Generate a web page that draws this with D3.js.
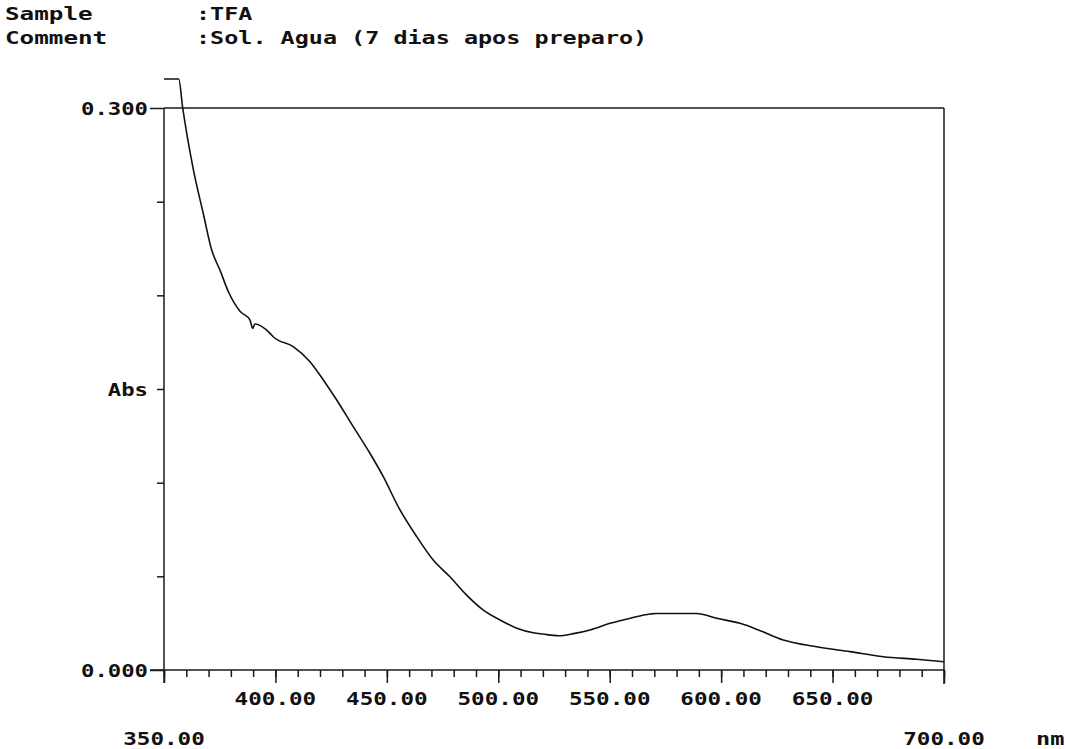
<!DOCTYPE html>
<html>
<head>
<meta charset="utf-8">
<script src="https://cdn.jsdelivr.net/npm/d3@7"></script>
<style>
  html, body { margin: 0; padding: 0; background: #fff; }
  svg { display: block; }
  text { font-family: "DejaVu Sans Mono", "Liberation Mono", monospace; font-weight: bold; fill: #111; }
</style>
</head>
<body>
<svg id="chart" width="1066" height="749"></svg>
<script>
// Spectrum: wavelength (nm) and absorbance readings
const wavelength = [350, 356.6, 358.4, 363.2, 367.6, 371.4, 375.1, 378.9, 384.1, 388.6, 389.8, 390.8,
  397.6, 399.0, 408.0, 415.5, 421.5, 427.5, 434.9, 442.4, 448.4, 455.5, 463.4, 470.8, 478.3, 485.8,
  493.3, 500.8, 508.3, 515.7, 520.0, 527.0, 533.7, 541.2, 550.1, 559.1, 568.1, 571.0, 589.0, 598.0,
  608.5, 616.7, 627.9, 642.9, 657.8, 672.8, 687.7, 700.0];
const absorbance = [0.3155, 0.3155, 0.300, 0.267, 0.2438, 0.2242, 0.2135, 0.2019, 0.1915, 0.1868, 0.1824, 0.1847,
  0.1797, 0.1779, 0.1726, 0.1646, 0.1548, 0.1441, 0.1299, 0.1157, 0.1032, 0.0863, 0.0712, 0.0587, 0.0498, 0.0400,
  0.0320, 0.0267, 0.0223, 0.0199, 0.0192, 0.0183, 0.0194, 0.0214, 0.0249, 0.0276, 0.0299, 0.0302, 0.0302, 0.0276,
  0.0249, 0.0214, 0.0160, 0.0124, 0.0098, 0.0071, 0.0057, 0.0044];

// Axis settings
const xDomain = [350, 700];
const yDomain = [0, 0.3];
const xMajorTicks = [350, 400, 450, 500, 550, 600, 650, 700];
const xInnerLabels = [400, 450, 500, 550, 600, 650];
const xEndLabels = [350, 700];
const yTicks = [0, 0.05, 0.1, 0.15, 0.2, 0.25, 0.3];
const yLabels = [{ v: 0.3, t: "0.300" }, { v: 0.15, t: "Abs" }, { v: 0, t: "0.000" }];
const headerKeys = ["Sample", "Comment"];
const headerValues = [":TFA", ":Sol. Agua (7 dias apos preparo)"];
const unitLabel = "nm";

const svg = d3.select("#chart");
const plotLeft = 164, plotRight = 944, plotTop = 108, plotBottom = 670;
const ink = "#1a1a1a";

const x = d3.scaleLinear().domain(xDomain).range([plotLeft, plotRight]);
const y = d3.scaleLinear().domain(yDomain).range([plotBottom, plotTop]);

// Monospace text stretched to the wide terminal-style cell
function mono(sel, str, cell) {
  sel.text(str)
    .attr("textLength", str.length * cell)
    .attr("lengthAdjust", "spacingAndGlyphs");
  return sel;
}

// Header
headerKeys.forEach((k, i) => {
  const yy = 20 + i * 24;
  mono(svg.append("text").attr("x", 5).attr("y", yy).attr("font-size", 17.5), k, 14.6);
  mono(svg.append("text").attr("x", 196).attr("y", yy).attr("font-size", 17.5), headerValues[i], 14.1);
});

// Frame top and right edges
svg.append("line").attr("x1", plotLeft).attr("x2", plotRight).attr("y1", plotTop).attr("y2", plotTop)
  .attr("stroke", ink).attr("stroke-width", 1.5);
svg.append("line").attr("x1", plotRight).attr("x2", plotRight).attr("y1", plotTop).attr("y2", plotBottom + 14)
  .attr("stroke", ink).attr("stroke-width", 1.5);

// X axis: minor ticks every 10 nm, long ticks every 50 nm
const xAxisMinor = d3.axisBottom(x).tickValues(d3.range(350, 701, 10)).tickSize(7).tickFormat("").tickSizeOuter(0);
const gxMinor = svg.append("g").attr("transform", `translate(0,${plotBottom})`).call(xAxisMinor);
const xAxisMajor = d3.axisBottom(x).tickValues(xMajorTicks).tickSize(13).tickFormat("").tickSizeOuter(0);
const gxMajor = svg.append("g").attr("transform", `translate(0,${plotBottom})`).call(xAxisMajor);
[gxMinor, gxMajor].forEach(g => {
  g.select(".domain").remove();
  g.selectAll(".tick line").attr("stroke", ink).attr("stroke-width", 1.5);
});
svg.append("line").attr("x1", plotLeft - 14).attr("x2", plotRight).attr("y1", plotBottom).attr("y2", plotBottom)
  .attr("stroke", ink).attr("stroke-width", 1.5);

// X labels
xInnerLabels.forEach(v => {
  mono(svg.append("text").attr("x", x(v)).attr("y", 705).attr("text-anchor", "middle").attr("font-size", 18.5),
    v.toFixed(2), 13.6);
});
xEndLabels.forEach(v => {
  mono(svg.append("text").attr("x", x(v)).attr("y", 745).attr("text-anchor", "middle").attr("font-size", 18.5),
    v.toFixed(2), 13.6);
});
mono(svg.append("text").attr("x", 1036).attr("y", 745).attr("font-size", 18.5), unitLabel, 14.2);

// Y axis
const yAxis = d3.axisLeft(y).tickValues(yTicks).tickSize(7).tickFormat("").tickSizeOuter(0);
const gy = svg.append("g").attr("transform", `translate(${plotLeft},0)`).call(yAxis);
gy.select(".domain").remove();
gy.selectAll(".tick line").attr("stroke", ink).attr("stroke-width", 1.5)
  .attr("x2", d => (d === 0 || d === 0.3) ? -14 : -7);
svg.append("line").attr("x1", plotLeft).attr("x2", plotLeft).attr("y1", plotTop).attr("y2", plotBottom + 13)
  .attr("stroke", ink).attr("stroke-width", 1.5);

yLabels.forEach(l => {
  mono(svg.append("text").attr("x", 148).attr("y", y(l.v) + 7).attr("text-anchor", "end").attr("font-size", 18.5),
    l.t, 13.4);
});

// Spectrum trace
const pts = wavelength.map((w, i) => [w, absorbance[i]]);
const line = d3.line().x(d => x(d[0])).y(d => y(d[1])).curve(d3.curveMonotoneX);
svg.append("path").datum(pts).attr("d", line)
  .attr("fill", "none").attr("stroke", "#111").attr("stroke-width", 1.6).attr("stroke-linejoin", "round");
</script>
</body>
</html>
